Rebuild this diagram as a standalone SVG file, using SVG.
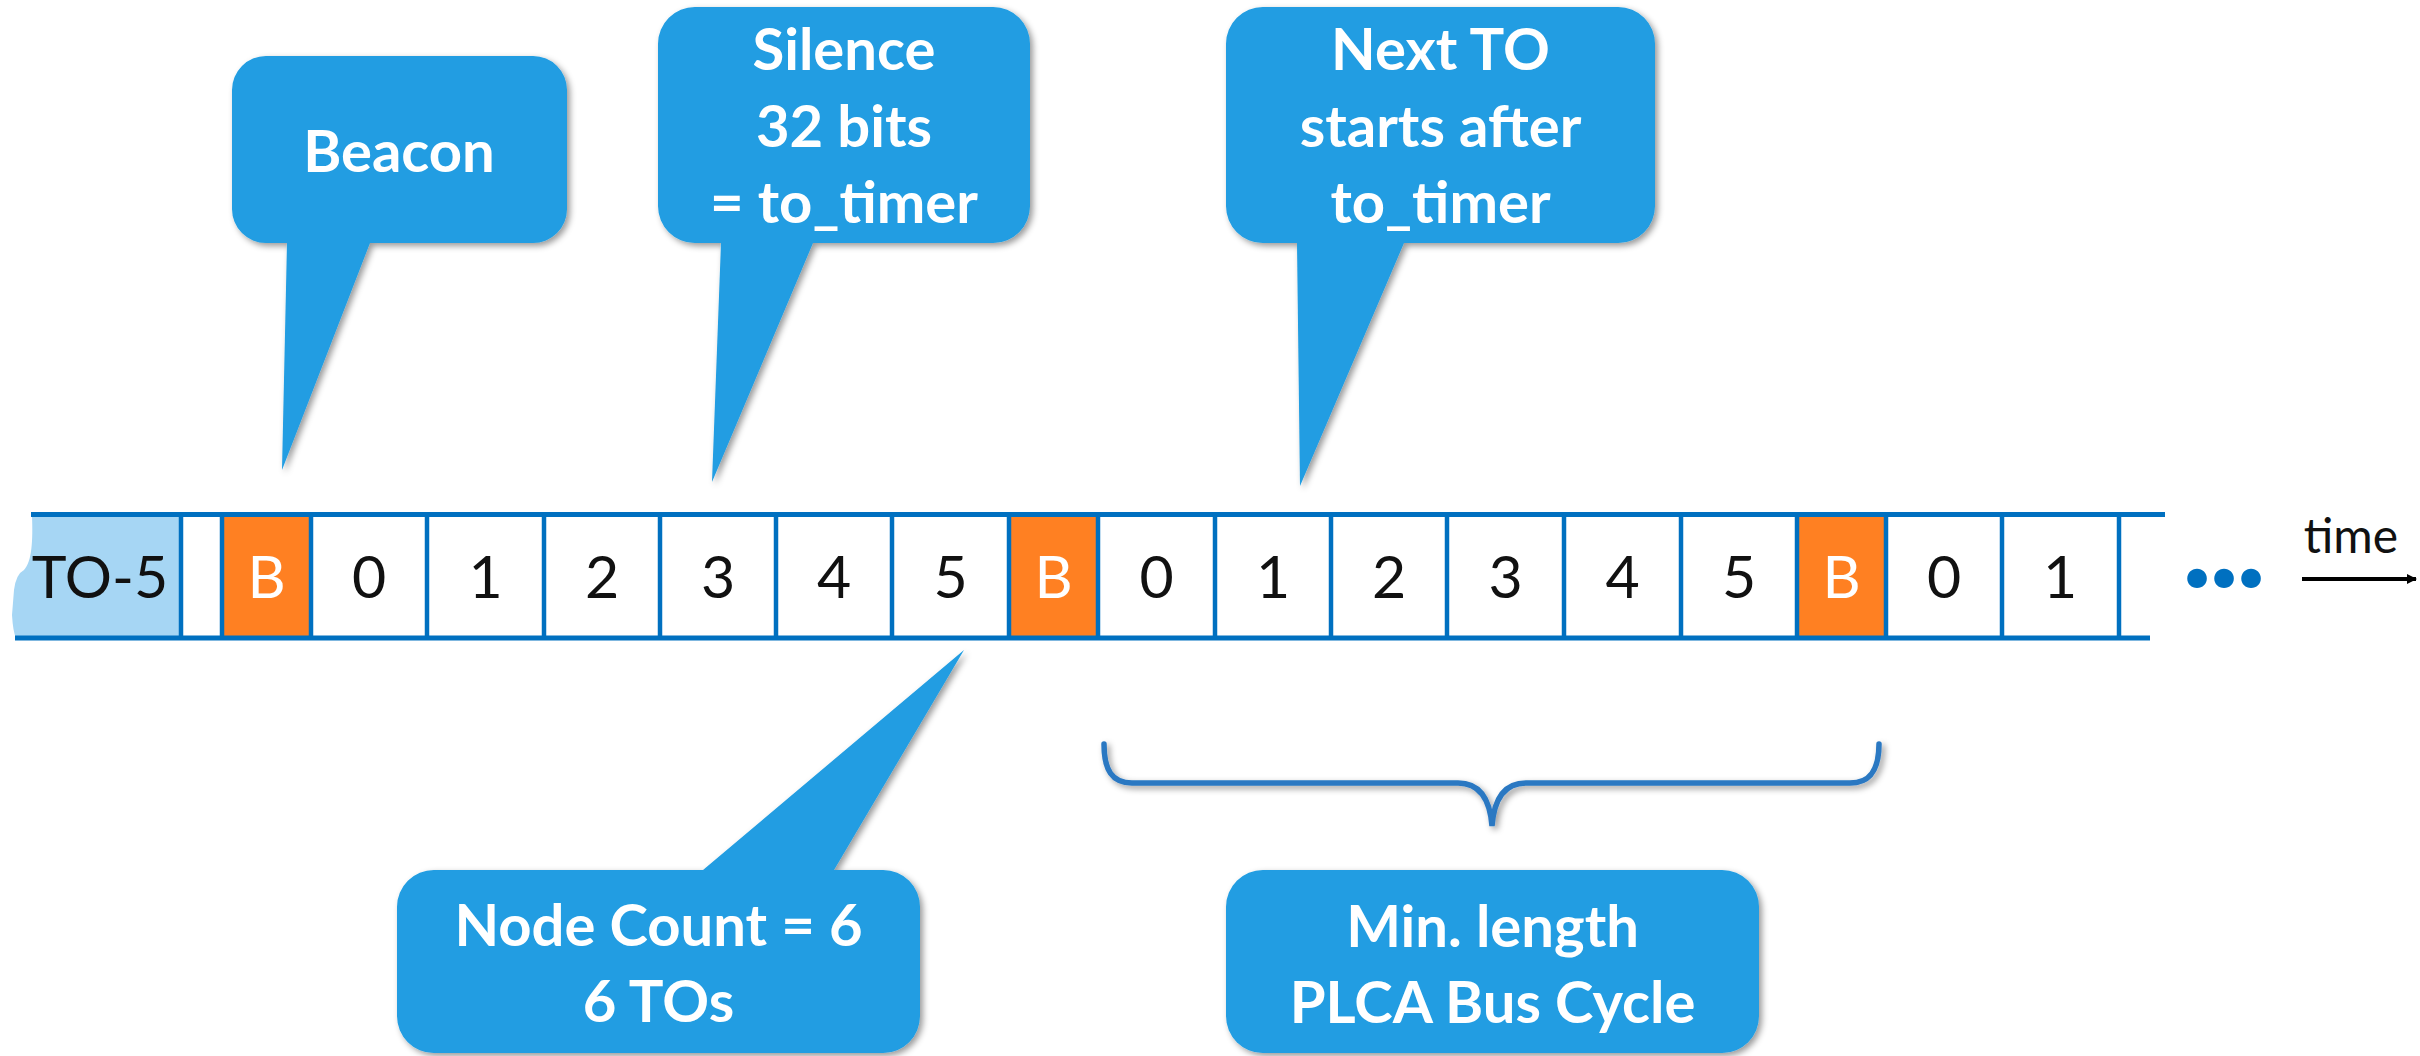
<svg xmlns="http://www.w3.org/2000/svg" width="2420" height="1056" viewBox="0 0 2420 1056">
  <style>
    .callout { fill: #209DE2; filter: url(#shadow); }
    .ctext { font-family: Lato, "Open Sans", "Liberation Sans", sans-serif; font-weight: bold; font-size: 58px; fill: #FFFFFF; text-anchor: middle; }
    .cell { font-family: Lato, "Open Sans", "Liberation Sans", sans-serif; font-size: 59px; fill: #111111; text-anchor: middle; }
    .cellB { fill: #FFFFFF; }
    .rail { stroke: #0070C0; stroke-width: 5; fill: none; }
    .sep { stroke: #0070C0; stroke-width: 4.5; }
    .beacon { fill: #FF8022; }
  </style>
  <defs>
    <filter id="shadow" x="-10%" y="-10%" width="130%" height="130%">
      <feDropShadow dx="3" dy="3" stdDeviation="3" flood-color="#000000" flood-opacity="0.4"/>
    </filter>
    <marker id="arrow" markerWidth="10" markerHeight="10" refX="9" refY="5" orient="auto" markerUnits="userSpaceOnUse" viewBox="0 0 10 10">
      <path d="M0,0 L10,5 L0,10 Z" fill="#000000"/>
    </marker>
  </defs>
  <rect x="0" y="0" width="2420" height="1056" fill="#FFFFFF"/>

  <!-- Timeline bar -->
  <g id="timeline">
    <path d="M32,516 C33,540 32,562 24,570 Q16,574 14,590 L12,615 Q13,632 16,638 L181,638 L181,516 Z" fill="#A6D6F4"/>
    <rect class="beacon" x="222" y="516" width="89" height="121"/>
    <rect class="beacon" x="1009" y="516" width="89" height="121"/>
    <rect class="beacon" x="1797" y="516" width="89" height="121"/>
    <line class="rail" x1="31" y1="514.5" x2="2165" y2="514.5"/>
    <line class="rail" x1="15" y1="638" x2="2150" y2="638"/>
    <g class="sep">
      <line x1="181" y1="514" x2="181" y2="638"/>
      <line x1="222" y1="514" x2="222" y2="638"/>
      <line x1="311" y1="514" x2="311" y2="638"/>
      <line x1="427" y1="514" x2="427" y2="638"/>
      <line x1="544" y1="514" x2="544" y2="638"/>
      <line x1="660" y1="514" x2="660" y2="638"/>
      <line x1="776" y1="514" x2="776" y2="638"/>
      <line x1="892" y1="514" x2="892" y2="638"/>
      <line x1="1009" y1="514" x2="1009" y2="638"/>
      <line x1="1098" y1="514" x2="1098" y2="638"/>
      <line x1="1215" y1="514" x2="1215" y2="638"/>
      <line x1="1331" y1="514" x2="1331" y2="638"/>
      <line x1="1447" y1="514" x2="1447" y2="638"/>
      <line x1="1564" y1="514" x2="1564" y2="638"/>
      <line x1="1681" y1="514" x2="1681" y2="638"/>
      <line x1="1797" y1="514" x2="1797" y2="638"/>
      <line x1="1886" y1="514" x2="1886" y2="638"/>
      <line x1="2002" y1="514" x2="2002" y2="638"/>
      <line x1="2119" y1="514" x2="2119" y2="638"/>
    </g>
    <g class="cell">
      <text x="100" y="598">TO-5</text>
      <text x="266.5" y="598" class="cellB">B</text>
      <text x="369" y="598">0</text>
      <text x="485.5" y="598">1</text>
      <text x="602" y="598">2</text>
      <text x="718" y="598">3</text>
      <text x="834" y="598">4</text>
      <text x="950.5" y="598">5</text>
      <text x="1053.5" y="598" class="cellB">B</text>
      <text x="1156.5" y="598">0</text>
      <text x="1273" y="598">1</text>
      <text x="1389" y="598">2</text>
      <text x="1505.5" y="598">3</text>
      <text x="1622.5" y="598">4</text>
      <text x="1739" y="598">5</text>
      <text x="1841.5" y="598" class="cellB">B</text>
      <text x="1944" y="598">0</text>
      <text x="2060" y="598">1</text>
    </g>
    <text x="2197 2224 2251" y="587" font-family="Lato, 'Open Sans', sans-serif" font-weight="900" font-size="120" fill="#0070C0" text-anchor="middle">...</text>
    <text x="2351" y="553" font-family="Lato, 'Open Sans', 'Liberation Sans', sans-serif" font-size="48" fill="#111111" text-anchor="middle">time</text>
  </g>

  <!-- Callouts -->
  <g id="callout-beacon">
    <path class="callout" d="M266,56 H533 A34,34 0 0 1 567,90 V209 A34,34 0 0 1 533,243 H370 L282,470 L287,243 H266 A34,34 0 0 1 232,209 V90 A34,34 0 0 1 266,56 Z"/>
    <text class="ctext" x="399" y="172">Beacon</text>
  </g>

  <g id="callout-silence">
    <path class="callout" d="M695,7 H993 A37,37 0 0 1 1030,44 V206 A37,37 0 0 1 993,243 H813 L712,482 L721,243 H695 A37,37 0 0 1 658,206 V44 A37,37 0 0 1 695,7 Z"/>
    <text class="ctext" x="844" y="70">Silence</text>
    <text class="ctext" x="844" y="147">32 bits</text>
    <text class="ctext" x="844" y="223">= to_timer</text>
  </g>

  <g id="callout-next-to">
    <path class="callout" d="M1263,7 H1618 A37,37 0 0 1 1655,44 V206 A37,37 0 0 1 1618,243 H1404 L1300,486 L1297,243 H1263 A37,37 0 0 1 1226,206 V44 A37,37 0 0 1 1263,7 Z"/>
    <text class="ctext" x="1440.5" y="70">Next TO</text>
    <text class="ctext" x="1440.5" y="147">starts after</text>
    <text class="ctext" x="1440.5" y="223">to_timer</text>
  </g>

  <g id="callout-node-count">
    <path class="callout" d="M434,870 H703 L964,650 L834,870 H883 A37,37 0 0 1 920,907 V1016 A37,37 0 0 1 883,1053 H434 A37,37 0 0 1 397,1016 V907 A37,37 0 0 1 434,870 Z"/>
    <text class="ctext" x="658.5" y="946">Node Count = 6</text>
    <text class="ctext" x="658.5" y="1022">6 TOs</text>
  </g>

  <g id="box-min-length">
    <path class="callout" d="M1263,870 H1722 A37,37 0 0 1 1759,907 V1016 A37,37 0 0 1 1722,1053 H1263 A37,37 0 0 1 1226,1016 V907 A37,37 0 0 1 1263,870 Z"/>
    <text class="ctext" x="1492.6" y="947">Min. length</text>
    <text class="ctext" x="1492.6" y="1023">PLCA Bus Cycle</text>
  </g>

  <!-- Connectors -->
  <g id="connectors">
    <path d="M1104,744 C1104,770 1112,783 1132,783 L1458,783 C1480,783 1490,800 1492,826 C1494,800 1504,783 1526,783 L1850,783 C1870,783 1879,770 1879,744" fill="none" stroke="#2A78C2" stroke-width="5.5" stroke-linecap="round" filter="url(#shadow)"/>
    <line x1="2302" y1="579" x2="2416" y2="579" stroke="#000000" stroke-width="4" marker-end="url(#arrow)"/>
  </g>
</svg>
